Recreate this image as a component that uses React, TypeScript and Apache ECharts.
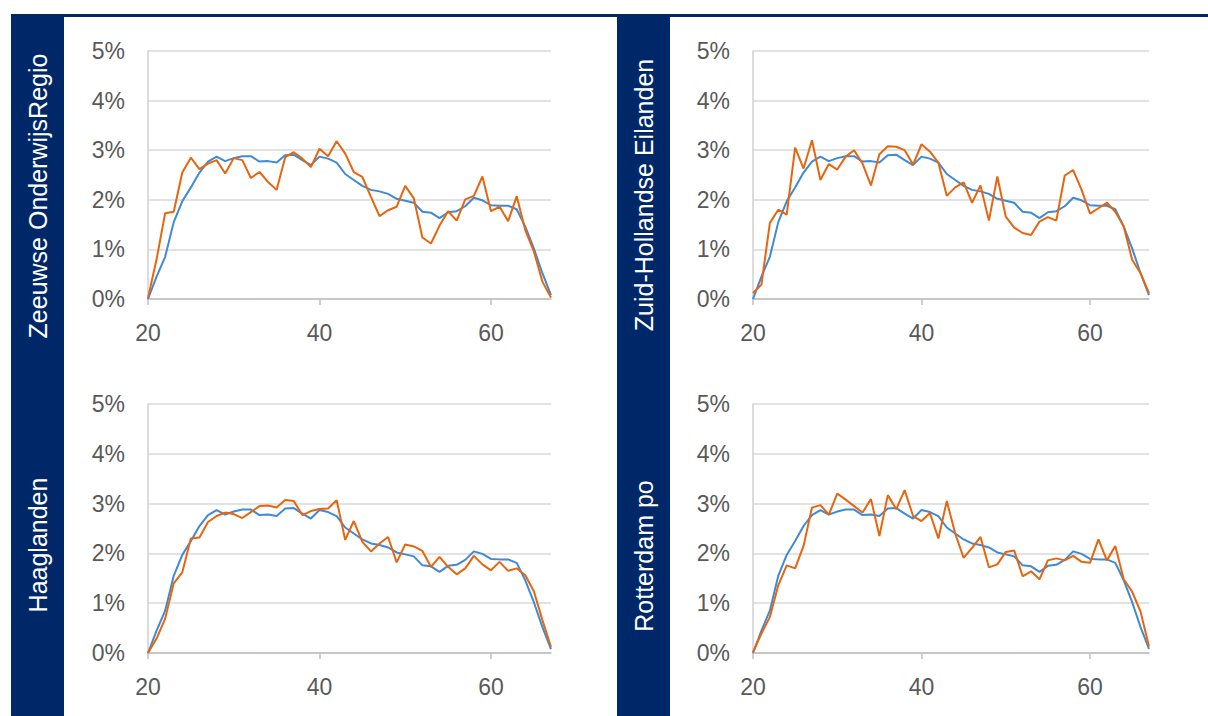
import React, { useEffect, useRef } from "react";
import * as echarts from "echarts";

const ages: number[] = [];
for (let a = 20; a <= 67; a++) ages.push(a);

const yTicks = [0, 1, 2, 3, 4, 5];

const regions = [
  "Zeeuwse OnderwijsRegio",
  "Zuid-Hollandse Eilanden",
  "Haaglanden",
  "Rotterdam po",
];

// shared reference line (blue)
const reference = [
  0.0, 0.45, 0.85, 1.55, 1.97, 2.25, 2.55, 2.77, 2.87, 2.78,
  2.84, 2.88, 2.88, 2.77, 2.78, 2.75, 2.9, 2.91, 2.8, 2.7,
  2.87, 2.83, 2.75, 2.52, 2.4, 2.28, 2.2, 2.17, 2.12, 2.02,
  1.98, 1.94, 1.76, 1.74, 1.63, 1.75, 1.77, 1.87, 2.04, 1.99,
  1.89, 1.88, 1.88, 1.81, 1.46, 1.02, 0.52, 0.08,
];

const zeeuwse = [
  0.02, 0.8, 1.73, 1.76, 2.55, 2.85, 2.62, 2.73, 2.8, 2.53,
  2.84, 2.8, 2.44, 2.56, 2.36, 2.2, 2.86, 2.96, 2.83, 2.66,
  3.03, 2.88, 3.18, 2.93, 2.56, 2.46, 2.06, 1.67, 1.79, 1.86,
  2.28, 2.03, 1.24, 1.12, 1.48, 1.77, 1.58, 2.01, 2.08, 2.47,
  1.77, 1.86, 1.57, 2.07, 1.39, 0.96, 0.35, 0.03,
];

const zuidHollandse = [
  0.12, 0.29, 1.53, 1.8, 1.7, 3.05, 2.63, 3.2, 2.4, 2.72,
  2.61, 2.87, 3.0, 2.73, 2.29, 2.92, 3.08, 3.07, 3.0, 2.71,
  3.12, 2.97, 2.75, 2.08, 2.25, 2.35, 1.94, 2.29, 1.58, 2.47,
  1.66, 1.44, 1.33, 1.29, 1.56, 1.65, 1.58, 2.49, 2.6, 2.2,
  1.72, 1.83, 1.94, 1.76, 1.46, 0.79, 0.52, 0.12,
];

const haaglanden = [
  0.0, 0.29, 0.69, 1.4, 1.62, 2.3, 2.32, 2.63, 2.75, 2.82,
  2.79, 2.71, 2.83, 2.95, 2.96, 2.92, 3.07, 3.05, 2.77, 2.85,
  2.89, 2.9, 3.07, 2.27, 2.65, 2.23, 2.04, 2.2, 2.33, 1.82,
  2.18, 2.14, 2.05, 1.73, 1.93, 1.73, 1.58, 1.7, 1.95, 1.78,
  1.66, 1.83, 1.65, 1.7, 1.56, 1.24, 0.66, 0.12,
];

const rotterdam = [
  0.02, 0.39, 0.72, 1.36, 1.76, 1.7, 2.15, 2.92, 2.97, 2.78,
  3.2, 3.08, 2.95, 2.82, 3.09, 2.35, 3.17, 2.89, 3.27, 2.75,
  2.65, 2.81, 2.3, 3.05, 2.4, 1.91, 2.11, 2.33, 1.72, 1.78,
  2.03, 2.06, 1.54, 1.64, 1.48, 1.86, 1.9, 1.86, 1.95, 1.83,
  1.81, 2.28, 1.86, 2.15, 1.48, 1.23, 0.83, 0.13,
];

const regionSeries = [zeeuwse, zuidHollandse, haaglanden, rotterdam];

const NAVY = "#002768";
const BLUE = "#3F8AD4";
const ORANGE = "#E8650E";
const FONT = "'Liberation Sans', Arial, sans-serif";

const panels = [
  { left: 148, top: 51, width: 403, height: 248, stripX: 37.5, labelY: 196 },
  { left: 753, top: 51, width: 396, height: 248, stripX: 643.5, labelY: 195 },
  { left: 148, top: 404, width: 403, height: 249, stripX: 37.5, labelY: 545 },
  { left: 753, top: 404, width: 396, height: 249, stripX: 643.5, labelY: 556 },
];

export default function App() {
  const ref = useRef<HTMLDivElement>(null);

  useEffect(() => {
    if (!ref.current) return;
    const chart = echarts.init(ref.current, undefined, { renderer: "svg" });

    const grids = panels.map((p) => ({
      left: p.left,
      top: p.top,
      width: p.width,
      height: p.height,
      containLabel: false,
    }));

    const showAge = (_i: number, v: any) => Number(v) % 20 === 0;

    const xAxes = panels.map((_p, i) => ({
      type: "category",
      gridIndex: i,
      data: ages.map(String),
      boundaryGap: false,
      axisLine: { show: true, lineStyle: { color: "#bfbfbf", width: 1.5 } },
      axisTick: {
        show: true,
        interval: showAge,
        length: 6,
        lineStyle: { color: "#bfbfbf", width: 1.5 },
      },
      axisLabel: {
        interval: showAge,
        color: "#595959",
        fontSize: 23,
        fontFamily: FONT,
        margin: 22,
      },
      splitLine: { show: false },
    }));

    const yAxes = panels.map((_p, i) => ({
      type: "value",
      gridIndex: i,
      min: yTicks[0],
      max: yTicks[yTicks.length - 1],
      interval: 1,
      axisLine: { show: true, lineStyle: { color: "#d0d0d0", width: 1.5 } },
      axisTick: { show: false },
      axisLabel: {
        formatter: (v: number) => `${v}%`,
        color: "#595959",
        fontSize: 23,
        fontFamily: FONT,
        margin: 23,
      },
      splitLine: { show: true, lineStyle: { color: "#d9d9d9", width: 1.5 } },
    }));

    const series: any[] = [];
    panels.forEach((_p, i) => {
      series.push({
        type: "line",
        name: "Nederland",
        xAxisIndex: i,
        yAxisIndex: i,
        data: reference,
        showSymbol: false,
        lineStyle: { color: BLUE, width: 2 },
        itemStyle: { color: BLUE },
        z: 2,
      });
      series.push({
        type: "line",
        name: regions[i],
        xAxisIndex: i,
        yAxisIndex: i,
        data: regionSeries[i],
        showSymbol: false,
        lineStyle: { color: ORANGE, width: 2 },
        itemStyle: { color: ORANGE },
        z: 3,
      });
    });

    const graphics: any[] = [
      { type: "rect", shape: { x: 11, y: 14, width: 1197, height: 3 }, style: { fill: NAVY }, silent: true },
      { type: "rect", shape: { x: 11, y: 14, width: 53, height: 702 }, style: { fill: NAVY }, silent: true },
      { type: "rect", shape: { x: 617, y: 14, width: 53, height: 702 }, style: { fill: NAVY }, silent: true },
    ];
    panels.forEach((p, i) => {
      graphics.push({
        type: "text",
        x: p.stripX,
        y: p.labelY,
        rotation: Math.PI / 2,
        silent: true,
        style: {
          text: regions[i],
          fill: "#ffffff",
          fontSize: 25,
          fontFamily: FONT,
          align: "center",
          verticalAlign: "middle",
        },
      });
    });

    chart.setOption({
      animation: false,
      backgroundColor: "#ffffff",
      grid: grids,
      xAxis: xAxes,
      yAxis: yAxes,
      series,
      graphic: graphics,
    });

    return () => chart.dispose();
  }, []);

  return (
    <div
      ref={ref}
      style={{ position: "absolute", left: 0, top: 0, width: 1208, height: 716 }}
    />
  );
}
